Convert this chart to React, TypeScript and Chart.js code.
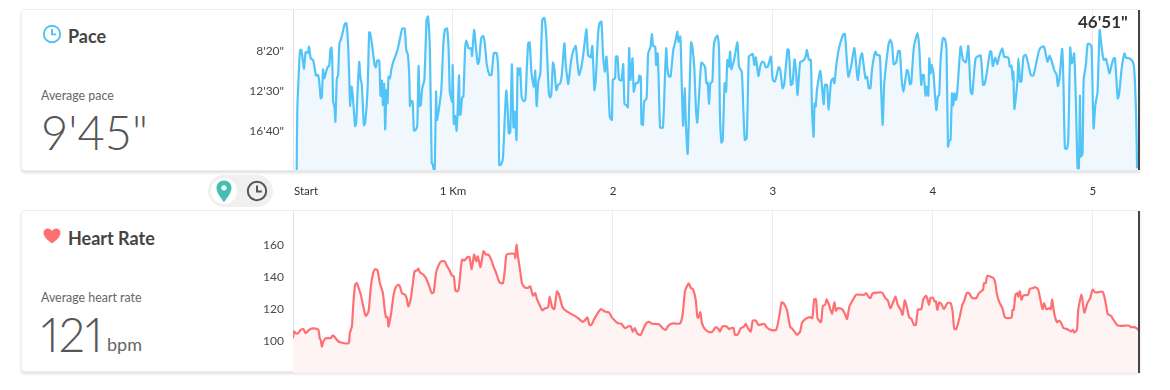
import React, { useEffect, useRef } from "react";
import { Chart, registerables } from "chart.js";

Chart.register(...registerables);

const FONT = "Lato, 'Open Sans', sans-serif";
const LABEL_COLOR = "#4a4a4a";

const distanceMax = 5288;
const distanceTickValues = [81, 1000, 2000, 3000, 4000, 5000];
const distanceTickLabels = ["Start", "1 Km", "2", "3", "4", "5"];

const paceTickValues = [500, 750, 1000];
const paceTickLabels = ["8'20\"", "12'30\"", "16'40\""];
const hrTickValues = [100, 120, 140, 160];

const paceMetres = [
  23,27,38,44,52,61,69,79,94,100,111,125,134,144,157,165,173,180,188,196,215,226,234,240,246,251,259,265,274,282,290,299,309,324,334,345,353,357,366,374,388,395,405,414,422,430,443,451,466,476,482,497,510,518,526,539,547,556,562,570,576,585,591,597,606,614,627,643,656,673,683,698,708,718,727,731,737,748,756,769,777,785,792,798,808,821,835,844,856,867,873,879,886,894,900,911,927,940,950,963,973,980,988,994,998,1005,1013,1023,1038,1042,1048,1057,1065,1076,1084,1097,1113,1119,1132,1145,1155,1163,1176,1188,1199,1211,1228,1241,1255,1274,1284,1289,1299,1312,1324,1333,1341,1349,1358,1368,1378,1387,1397,1404,1412,1420,1429,1441,1452,1462,1470,1479,1491,1506,1514,1523,1533,1546,1558,1571,1583,1598,1606,1614,1625,1633,1646,1658,1671,1681,1696,1706,1721,1736,1750,1767,1777,1788,1805,1819,1834,1844,1853,
  1861,1871,1884,1892,1907,1917,1928,1938,1949,1959,1970,1980,1993,1999,2013,2018,2028,2038,2053,2064,2072,2084,2093,2101,2109,2122,2130,2143,2158,2164,2174,2178,2187,2195,2210,2220,2235,2243,2251,2264,2270,2279,2285,2295,2312,2325,2333,2341,2350,2360,2377,2389,2402,2410,2421,2431,2439,2448,2456,2467,2477,2488,2496,2508,2519,2527,2540,2552,2569,2577,2584,2592,2600,2609,2621,2630,2640,2653,2663,2669,2678,2686,2698,2707,2715,2724,2732,2740,2757,2778,2788,2805,2815,2824,2836,2849,2861,2874,2884,2893,2909,2920,2932,2945,2955,2968,2987,2999,3012,3024,3035,3045,3060,3070,3091,3099,3112,3122,3135,3145,3154,3170,3187,3204,3212,3225,3237,3244,3254,3260,3267,3275,3296,3317,3325,3338,3348,3363,3375,3384,3396,3411,3432,3442,3450,3471,3488,3509,3530,3546,
  3557,3578,3588,3599,3609,3620,3640,3651,3668,3676,3686,3695,3709,3724,3734,3745,3755,3770,3783,3793,3806,3816,3826,3837,3845,3856,3864,3881,3904,3914,3927,3935,3943,3954,3960,3971,3977,3985,3991,4002,4021,4031,4039,4048,4062,4075,4085,4094,4102,4110,4119,4127,4135,4144,4152,4173,4188,4206,4221,4236,4246,4267,4298,4313,4323,4336,4357,4365,4374,4388,4403,4413,4434,4445,4472,4480,4491,4499,4503,4509,4528,4534,4545,4553,4566,4580,4595,4612,4628,4643,4664,4681,4695,4716,4729,4743,4758,4773,4781,4791,4808,4816,4825,4837,4846,4858,4867,4873,4883,4894,4904,4912,4919,4925,4935,4942,4956,4967,4983,4992,5004,5015,5029,5042,5054,5067,5082,5103,5117,5130,5138,5155,5163,5180,5197,5207,5228,5249,5259,5270,5276,
];
const paceSeconds = [
  1244,869,598,498,492,556,610,508,510,473,546,556,598,654,650,702,796,790,615,671,602,594,490,479,577,817,848,942,671,650,452,431,390,331,327,473,712,844,723,785,969,952,723,569,671,712,963,952,744,385,385,483,588,602,560,560,781,685,838,706,990,744,827,660,671,619,567,525,483,400,360,360,494,525,660,844,810,817,998,990,963,594,844,838,733,681,306,285,504,1202,1206,1240,1244,754,931,869,744,452,365,360,494,754,790,817,588,956,906,998,652,900,894,790,785,483,435,483,483,531,369,494,581,567,421,406,452,581,650,650,515,515,660,1213,1213,1171,910,748,848,1015,1010,583,977,879,1056,608,650,608,785,813,806,598,452,446,640,723,623,844,692,640,306,294,400,744,790,775,573,608,744,712,702,640,452,598,706,577,504,469,567,650,588,483,365,525,535,
  540,469,744,692,390,323,317,525,629,535,692,910,931,681,671,535,535,677,685,583,831,838,852,483,681,546,754,702,698,654,660,956,963,817,796,515,473,394,469,473,588,515,660,979,979,660,483,619,660,660,494,446,379,442,410,744,967,733,963,1144,806,446,473,598,869,948,744,573,588,608,702,698,831,702,692,473,421,404,494,910,1073,1056,702,754,556,598,504,613,556,446,598,629,869,1056,1046,535,525,519,588,540,656,598,567,573,602,598,535,681,692,650,602,615,733,712,490,494,712,706,552,640,775,567,563,535,494,556,556,865,1035,827,848,744,625,833,712,712,865,692,671,702,588,490,415,394,394,660,598,483,681,546,
  515,671,660,733,733,608,504,525,529,733,962,712,567,452,431,462,583,571,500,500,696,754,692,619,629,708,702,473,387,473,712,650,650,779,723,779,546,640,587,629,869,785,775,556,421,425,494,1098,1062,1056,765,842,765,806,754,473,556,571,469,754,769,546,529,712,708,640,504,504,594,542,583,535,483,535,542,598,592,681,629,862,692,546,692,692,535,525,577,650,654,587,494,473,475,567,529,567,619,650,719,671,487,712,1108,1112,1046,479,577,567,515,837,1233,1233,779,1160,1140,681,587,458,458,483,983,837,754,369,473,556,550,640,587,546,546,796,775,608,515,542,546,567,629,900,1233,
];

const hrMetres = [
  0,6,17,31,48,65,79,100,117,142,159,167,173,180,190,205,236,246,259,278,299,347,355,368,376,388,399,414,424,439,455,472,487,501,514,528,543,562,570,581,591,597,612,629,643,658,668,681,700,710,721,735,748,760,775,783,794,815,831,852,867,879,894,909,925,948,963,977,992,1005,1015,1025,1036,1048,1057,1071,1092,1103,1117,1132,1145,1155,1172,1191,1207,1222,1239,1253,1270,1291,1312,1322,1333,1343,1385,1389,1397,1406,1422,1431,1447,1468,1483,1500,1514,1525,1541,1558,1573,1594,1604,1619,1633,1650,1663,1683,1698,1729,1761,1782,1809,1823,1840,1853,
  1865,1886,1907,1924,1949,1976,1990,2011,2032,2053,2074,2095,2112,2124,2137,2151,2172,2189,2206,2224,2245,2287,2310,2331,2345,2373,2419,2435,2450,2460,2473,2487,2500,2517,2527,2533,2546,2556,2575,2596,2621,2642,2659,2669,2684,2711,2726,2738,2753,2763,2780,2799,2820,2830,2843,2861,2874,2893,2909,2945,2962,2987,3020,3039,3054,3066,3087,3108,3122,3139,3150,3170,3181,3202,3233,3246,3258,3269,3279,3300,3312,3327,3335,3348,3369,3384,3394,3404,3432,3452,3463,3478,3494,3521,3546,
  3572,3582,3599,3609,3624,3661,3682,3703,3718,3734,3749,3766,3780,3797,3810,3824,3839,3851,3866,3881,3893,3906,3927,3939,3956,3964,3975,3985,4000,4010,4019,4027,4039,4052,4069,4090,4110,4123,4133,4146,4163,4184,4194,4211,4225,4246,4271,4288,4313,4319,4330,4340,4378,4390,4399,4413,4434,4451,4491,4497,4505,4516,4528,4534,4543,4553,4566,4595,4605,4626,4639,4658,4685,4695,4708,4727,4737,4745,4758,4775,4789,4800,4816,4841,4862,4875,4883,4900,4908,4929,4946,4967,4983,4998,5015,5061,5082,5092,5113,5155,5224,5238,5259,5272,5284,
];
const hrBpm = [
  101.7,105.9,104.8,104.8,106.9,107.3,104.8,106.9,107.7,107.7,106.9,101.7,100.7,96.5,99.6,101.7,101.7,103.2,102.7,100.2,99,98.6,104.8,109,121.5,135,136,131.9,128.8,121.5,115.6,118.4,134,142.3,144.8,144,136,129.8,122.5,114.8,114.8,109,116.3,128.8,133.6,135,134,129.8,128.8,126.7,121.5,125.7,135,143.4,144,145,142.7,141.3,139.2,134,129.8,130.2,142.3,146.9,149.6,149.6,146.5,144.4,140.9,140.2,131.5,130.9,132.3,144.4,150.7,150.2,152.3,152.3,144.8,153.8,149.6,152.7,146,155.9,153.8,153.8,150.7,146.5,142.3,136.5,136,142.3,153.2,154.2,154.2,151.7,160,152.7,142.3,136,133.6,133,134,128.2,129.8,126,122.5,119,120.2,120.9,127.7,121.1,119.8,130.9,128.8,121.5,119.4,117.3,115.6,114.2,111.9,112.7,114.6,110,
  110,114.2,117.7,119.8,118.4,117.7,115.2,112.7,111,110.7,108,109,109,105.7,108,104.8,103.6,107.3,110.7,111.9,110.7,110.4,108,106.9,109.4,110.9,110.9,116.3,130.9,133.6,135.9,133,132.3,125.7,115.2,114.4,117.9,111.1,107.3,105.7,105.7,108.6,107.5,105.9,109,109,107.3,108,108,103.8,104,108,109,110.7,108,105.9,112.7,112.7,110,110.7,108.4,106.9,106.9,115.2,124,123.6,119.4,108.6,107.5,105.2,103.8,105.9,111.1,113.6,114.8,114.2,126,126,114.2,111.7,121.9,122.5,126,123.2,116.9,124,118.8,120.4,119.8,116.3,113.6,121.5,124.6,128.8,128.8,
  128.8,129.8,127.3,126.7,129.8,130.2,130.2,126.7,125.2,120.4,123.6,127.7,122.5,119.8,116.3,125.2,120.4,114.8,113.6,110,110,119.4,119.8,125.7,128.2,126.7,122.5,126.9,126.9,124.6,124.6,119.4,124,123.2,119.8,123.6,123.6,118.4,107.5,107.5,113.2,122.5,124.6,129.8,129.8,126.7,126.7,129.8,131.9,136,136,140.6,139.2,136,129.8,124.6,120.4,114.6,114.6,119.4,119.4,128.8,129.8,127.7,130.9,125.7,128.4,128.8,132.3,133,133.6,131.9,119.8,123.6,119.8,120.4,119.8,125.7,117.3,111.7,112.7,111.5,108,107.3,105.9,106.9,105.2,106.9,119.4,128.8,117.7,124,126.7,131.9,130.2,130.6,122.5,116.9,115.6,109.6,109.6,108.6,108.6,108,106.9,
];

const zip = (xs: number[], ys: number[]) => xs.map((x, i) => ({ x, y: ys[i] }));

const cursorPlugin = {
  id: "cursor",
  afterDatasetsDraw(chart: any) {
    const { ctx, chartArea } = chart;
    const x = chart.scales.x.getPixelForValue(distanceMax);
    ctx.save();
    ctx.strokeStyle = "#444";
    ctx.lineWidth = 2;
    ctx.beginPath();
    ctx.moveTo(x, chartArea.top);
    ctx.lineTo(x, chartArea.bottom);
    ctx.stroke();
    ctx.restore();
  },
};

const noPadding = (s: any) => {
  s.paddingTop = 0;
  s.paddingBottom = 0;
  s.paddingLeft = 0;
  s.paddingRight = 0;
};

function xScale(showLabels: boolean, height: number) {
  return {
    type: "linear",
    min: 0,
    max: distanceMax,
    afterBuildTicks: (s: any) => {
      s.ticks = distanceTickValues.map((value) => ({ value }));
    },
    afterFit: (s: any) => {
      s.height = height;
      noPadding(s);
    },
    border: { display: false },
    grid: {
      drawTicks: false,
      color: (c: any) => (c.tick && c.tick.value >= 1000 ? "#ececec" : "transparent"),
    },
    ticks: {
      display: showLabels,
      autoSkip: false,
      maxRotation: 0,
      padding: 14,
      color: "#333",
      font: { family: FONT, size: 11.5 },
      callback: (v: number) => distanceTickLabels[distanceTickValues.indexOf(v)],
    },
  };
}

function yScale(min: number, max: number, reverse: boolean, values: number[], label: (v: number) => string) {
  return {
    type: "linear",
    min,
    max,
    reverse,
    afterBuildTicks: (s: any) => {
      s.ticks = values.map((value) => ({ value }));
    },
    afterFit: (s: any) => {
      s.width = 63;
      noPadding(s);
    },
    border: { display: true, color: "#e2e2e2", width: 1 },
    grid: { display: false, drawTicks: false },
    ticks: {
      padding: 9,
      color: LABEL_COLOR,
      font: { family: FONT, size: 12 },
      callback: label,
    },
  };
}

function useLineChart(
  ref: React.RefObject<HTMLCanvasElement | null>,
  points: { x: number; y: number }[],
  line: string,
  fill: string,
  x: any,
  y: any,
) {
  useEffect(() => {
    if (!ref.current) return;
    const chart = new Chart(ref.current, {
      type: "line",
      data: {
        datasets: [
          {
            data: points,
            borderColor: line,
            backgroundColor: fill,
            borderWidth: 2.2,
            pointRadius: 0,
            tension: 0.2,
            fill: "start",
            borderJoinStyle: "round",
          },
        ],
      },
      options: {
        responsive: false,
        animation: false,
        layout: { padding: { left: 0, right: 1, top: 0, bottom: 0 } },
        plugins: { legend: { display: false }, tooltip: { enabled: false } },
        scales: { x, y },
      },
      plugins: [cursorPlugin],
    } as any);
    return () => chart.destroy();
  }, []);
}

const abs = (left: number, top: number, extra: React.CSSProperties = {}): React.CSSProperties => ({
  position: "absolute",
  left,
  top,
  fontFamily: FONT,
  whiteSpace: "nowrap",
  ...extra,
});

const card = (top: number): React.CSSProperties => ({
  position: "absolute",
  left: 21,
  top,
  width: 1117,
  height: 160,
  background: "#fff",
  border: "1px solid #eeeeee",
  borderRadius: 4,
  boxShadow: "0 2px 3px rgba(0,0,0,0.13)",
  boxSizing: "content-box",
});

export default function App() {
  const paceRef = useRef<HTMLCanvasElement>(null);
  const hrRef = useRef<HTMLCanvasElement>(null);

  useLineChart(
    paceRef,
    zip(paceMetres, paceSeconds),
    "#52c4f7",
    "#f0f8fe",
    xScale(true, 30),
    yScale(244, 1244, true, paceTickValues, (v) => paceTickLabels[paceTickValues.indexOf(v)]),
  );
  useLineChart(
    hrRef,
    zip(hrMetres, hrBpm),
    "#ff7073",
    "#fff4f4",
    xScale(false, 0),
    yScale(80, 181, false, hrTickValues, (v) => String(v)),
  );

  return (
    <div style={{ position: "absolute", left: 0, top: 0, width: 1170, height: 390, overflow: "hidden", background: "#fff" }}>
      <div style={card(9)} />
      <div style={card(210)} />

      <svg style={{ position: "absolute", left: 42, top: 24 }} width="20" height="20" viewBox="0 0 20 20">
        <circle cx="10" cy="10" r="8.2" fill="none" stroke="#4fc3f7" strokeWidth="1.9" />
        <path d="M10 5v5.4h4" fill="none" stroke="#4fc3f7" strokeWidth="1.9" />
      </svg>
      <div style={abs(68, 26, { fontSize: 18, fontWeight: 700, color: "#444", lineHeight: "20px" })}>Pace</div>
      <div style={abs(41, 88, { fontSize: 12.4, color: "#666", lineHeight: "15px" })}>Average pace</div>
      <div style={abs(41, 105, { fontSize: 47, fontWeight: 300, color: "#555", lineHeight: "55px" })}>9'45"</div>

      <div style={{ position: "absolute", left: 208, top: 175, width: 65, height: 32, background: "#f0f0f0", borderRadius: 16 }} />
      <div style={{ position: "absolute", left: 211, top: 178, width: 26, height: 26, background: "#fff", borderRadius: 13 }} />
      <svg style={{ position: "absolute", left: 216, top: 180 }} width="16" height="23" viewBox="0 0 16 23">
        <path d="M8 .5C3.6.5.5 3.8.5 8c0 5.3 5.3 10.6 7.5 14.5C10.2 18.6 15.5 13.3 15.5 8 15.5 3.8 12.4.5 8 .5z" fill="#47bdb6" />
        <circle cx="8" cy="7.8" r="2.6" fill="#fff" />
      </svg>
      <svg style={{ position: "absolute", left: 246, top: 180 }} width="22" height="22" viewBox="0 0 22 22">
        <circle cx="11" cy="11" r="9.2" fill="none" stroke="#555" strokeWidth="2" />
        <path d="M11 5.5V11.6h4.8" fill="none" stroke="#555" strokeWidth="2" />
      </svg>

      <svg style={{ position: "absolute", left: 43, top: 228 }} width="18" height="16" viewBox="0 0 18 16">
        <path d="M9 15.5C6 13 .5 9.2.5 4.9.5 2.3 2.5.5 4.8.5 6.5.5 8.1 1.4 9 3c.9-1.6 2.5-2.5 4.2-2.5 2.3 0 4.3 1.8 4.3 4.4C17.5 9.2 12 13 9 15.5z" fill="#ff6f71" />
      </svg>
      <div style={abs(68, 228, { fontSize: 18, fontWeight: 700, color: "#444", lineHeight: "20px" })}>Heart Rate</div>
      <div style={abs(41, 290, { fontSize: 12.4, color: "#666", lineHeight: "15px" })}>Average heart rate</div>
      <div style={abs(41, 307, { fontSize: 47, fontWeight: 300, color: "#555", lineHeight: "55px", fontFeatureSettings: '"pnum" 1' })}>121</div>
      <div style={abs(107, 332, { fontSize: 18, fontWeight: 400, color: "#666", lineHeight: "24px" })}>bpm</div>

      <canvas ref={paceRef} width={910} height={190} style={{ position: "absolute", left: 230, top: 10, display: "block" }} />
      <canvas ref={hrRef} width={910} height={162} style={{ position: "absolute", left: 230, top: 211, display: "block" }} />

      <div style={abs(1078, 12, { fontSize: 17, fontWeight: 700, color: "#333", lineHeight: "20px" })}>46'51"</div>
    </div>
  );
}
